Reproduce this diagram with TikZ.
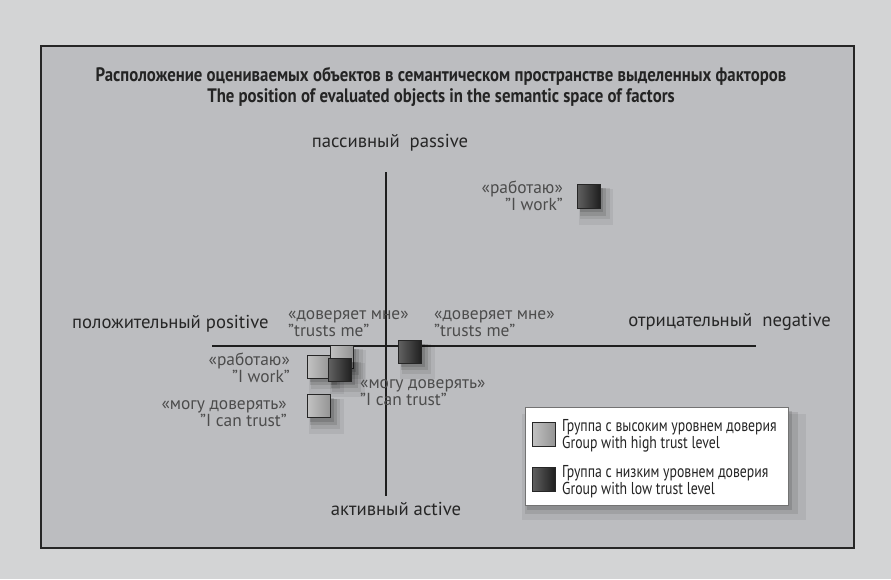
\documentclass[tikz,border=0pt]{standalone}
\usepackage{fontspec}
\setmainfont{PT Sans}
\newfontfamily\condfont[FakeStretch=0.8]{PT Sans}
\newfontfamily\titlefont[FakeStretch=0.86]{PT Sans}
\usetikzlibrary{shadows}
\definecolor{outerbg}{HTML}{D3D4D5}
\definecolor{innerbg}{HTML}{BCBDC0}
\definecolor{axiscol}{HTML}{1E1E1E}
\definecolor{lblcol}{HTML}{4C4C4C}
\definecolor{ttlcol}{HTML}{242424}
\begin{document}
\begin{tikzpicture}[x=1pt,y=-1pt,
  softshadow/.style={
    general shadow={fill=black, opacity=0.06, shadow xshift=5pt, shadow yshift=-7pt, shadow scale=1.5},
    general shadow={fill=black, opacity=0.08, shadow xshift=5pt, shadow yshift=-6pt, shadow scale=1.3},
    general shadow={fill=black, opacity=0.11, shadow xshift=4pt, shadow yshift=-5pt, shadow scale=1.15},
    general shadow={fill=black, opacity=0.13, shadow xshift=3pt, shadow yshift=-4pt, shadow scale=1.02}},
  sq/.style={draw=black!85, line width=0.7pt, minimum width=23pt, minimum height=23pt, inner sep=0pt, softshadow},
  hisq/.style={sq, left color=black!24, middle color=black!6, right color=black!42},
  losq/.style={sq, left color=black!62, middle color=black!74, right color=black!88},
  legsq/.style={draw=black!85, line width=0.7pt, minimum width=23pt, minimum height=24pt, inner sep=0pt},
  lbl/.style={inner sep=0pt, text=lblcol, align=left, font=\fontsize{17.4}{15.5}\selectfont},
  lblr/.style={lbl, align=right},
  axlbl/.style={inner sep=0pt, text=black!85, font=\fontsize{18.7}{18}\selectfont},
  legtxt/.style={inner sep=0pt, text=ttlcol, align=left, font=\condfont\fontsize{17.2}{13.5}\selectfont},
  axline/.style={draw=axiscol, line width=1.7pt}]
\fill[outerbg] (0,0) rectangle (891,579);
\useasboundingbox (0,0) rectangle (891,579);
\filldraw[fill=innerbg, draw=black!85, line width=1.2pt,
  drop shadow={shadow xshift=1pt, shadow yshift=-1pt, opacity=0.3}] (41,46) rectangle (854,548);
% title
\node[inner sep=0pt, text=ttlcol, align=center, font=\titlefont\bfseries\fontsize{19.5}{21}\selectfont] (title) at (441,86.5)
  {Расположение оцениваемых объектов в семантическом пространстве выделенных факторов\\
   The position of evaluated objects in the semantic space of factors};
% axes
\coordinate (vtop) at (386,172);
\coordinate (vbot) at (386,496);
\coordinate (hleft) at (212,346);
\coordinate (hright) at (756,346);
\draw[axline, line width=1.3pt] (vtop) -- (vbot);
\draw[axline] (hleft) -- (hright);
\node[axlbl] (passive) at (390,143) {пассивный\ \ passive};
\node[axlbl] (active) at (396,509) {активный active};
\node[axlbl, anchor=west] (positive) at (72,324) {положительный positive};
\node[axlbl, anchor=east] (negative) at (831,322) {отрицательный\ \ negative};
% squares
\node[losq, minimum height=24pt] (dwork1) at (588.5,196) {};
\node[hisq] (htrust) at (341.5,356.5) {};
\node[hisq] (hwork) at (319,366.5) {};
\node[losq] (dwork2) at (340,369.5) {};
\node[hisq] (hcan) at (319,406) {};
\node[losq] (dtrust) at (410,351.5) {};
% labels
\node[lblr, anchor=east] (lwork1) at (563,196) {«работаю»\\"I work"};
\node[lbl, anchor=west] (ltrust1) at (288,324) {«доверяет мне»\\"trusts me"};
\node[lbl, anchor=west] (ltrust2) at (434,324) {«доверяет мне»\\"trusts me"};
\node[lblr, anchor=east] (lwork2) at (290,368) {«работаю»\\"I work"};
\node[lbl, anchor=west] (lcan2) at (360,392.5) {«могу доверять»\\"I can trust"};
\node[lblr, anchor=east] (lcan1) at (287,414) {«могу доверять»\\"I can trust"};
% legend
\node[draw=black!55, fill=white, line width=0.8pt, minimum width=263pt, minimum height=98pt, inner sep=0pt,
  general shadow={fill=black, opacity=0.06, shadow xshift=7pt, shadow yshift=-10pt, shadow scale=1.08},
  general shadow={fill=black, opacity=0.09, shadow xshift=5pt, shadow yshift=-7pt, shadow scale=1.04},
  general shadow={fill=black, opacity=0.12, shadow xshift=3pt, shadow yshift=-4pt, shadow scale=1.01}] (legend) at (656.5,456) {};
\node[legsq, left color=black!24, middle color=black!6, right color=black!42] (leghi) at (543.5,434) {};
\node[legsq, left color=black!62, middle color=black!74, right color=black!88] (leglo) at (543.5,479.5) {};
\node[legtxt, anchor=west] (leghitxt) at (562,436) {Группа с высоким уровнем доверия\\Group with high trust level};
\node[legtxt, anchor=west] (leglotxt) at (562,482) {Группа с низким уровнем доверия\\Group with low trust level};
\end{tikzpicture}
\end{document}
